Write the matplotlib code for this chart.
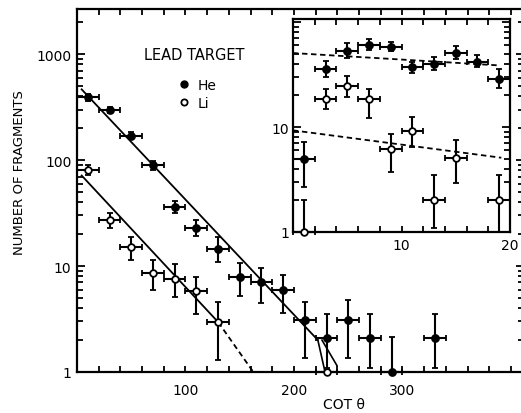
import matplotlib
matplotlib.use('Agg')
import matplotlib.pyplot as plt
from matplotlib.lines import Line2D
from matplotlib.ticker import FixedLocator, FixedFormatter, LogLocator, NullFormatter, MultipleLocator

# main panel, lead target, cot theta bins of width 20
he_x = [10, 30, 50, 70, 90, 110, 130, 150, 170, 190, 210, 230, 250, 270, 290, 330]
he_y = [390, 300, 170, 89, 36, 23, 14.5, 7.8, 7.0, 6.0, 3.1, 2.1, 3.1, 2.1, 1.0, 2.1]
he_lo = [360, 280, 158, 80, 31.7, 19.3, 11, 5.2, 4.5, 3.6, 1.35, 1.1, 1.35, 1.1, 1.0, 1.1]
he_hi = [420, 320, 183, 99, 40.8, 27.4, 19, 10.6, 9.5, 8.3, 4.6, 3.5, 4.8, 3.5, 2.16, 3.5]

li_x = [10, 30, 50, 70, 90, 110, 130, 230]
li_y = [81, 27, 15, 8.6, 7.6, 5.8, 2.95, 1.0]
li_lo = [73, 22.9, 11.5, 5.9, 5.1, 3.5, 1.3, 1.0]
li_hi = [90, 32, 19, 11.5, 10.4, 7.9, 4.6, 1.0]

# fitted lines
he_fit_x = [4.3, 222]
he_fit_y = [465, 2.0]
li_fit_x = [4.3, 130.2]
li_fit_y = [71.5, 2.95]
li_ext_x = [130.2, 162.5]
li_ext_y = [2.95, 1.0]
band_l_x = [222, 228.6]
band_l_y = [2.0, 1.0]
band_r_x = [225.8, 239.6]
band_r_y = [2.0, 1.15]

# inset, cot theta 0-20
he_in_x = [1, 3, 5, 7, 9, 11, 13, 15, 17, 19]
he_in_y = [5.0, 35.8, 53, 60, 58, 37, 39.8, 50.7, 42, 29]
he_in_lo = [2.7, 29.9, 45.4, 53.7, 52.5, 32.9, 34.7, 44.7, 37.3, 23.5]
he_in_hi = [7.2, 42.2, 63, 69, 65, 41.6, 46.4, 58.6, 48.2, 35.4]

li_in_x = [1, 3, 5, 7, 9, 11, 13, 15, 19]
li_in_y = [1.0, 18.5, 24.7, 18.5, 6.2, 9.2, 2.0, 5.1, 2.0]
li_in_lo = [1.0, 14.9, 19.3, 12.2, 3.7, 6.45, 1.08, 2.9, 1.0]
li_in_hi = [2.0, 22.8, 30.6, 22.8, 8.6, 12.5, 3.46, 7.5, 3.46]

he_in_fit_x = [0, 19.1]
he_in_fit_y = [50.7, 38.6]
li_in_fit_x = [0, 19.2]
li_in_fit_y = [9.3, 5.1]

FS = 10


def yerr(y, lo, hi):
    return [[a - b for a, b in zip(y, lo)], [b - a for a, b in zip(y, hi)]]


def points(ax, x, y, lo, hi, xe, filled):
    ax.errorbar(x, y, yerr=yerr(y, lo, hi), xerr=xe, fmt='o', color='black',
                ms=5 if filled else 4.8, mfc='black' if filled else 'white',
                mec='black', mew=1.3, elinewidth=1.5, capsize=2.5, capthick=1.3,
                zorder=3, clip_on=False)


def style(ax):
    for s in ax.spines.values():
        s.set_linewidth(1.6)
    ax.tick_params(which='both', direction='in', top=True, right=True,
                   labelsize=FS, width=1.3)
    ax.tick_params(which='major', length=6)
    ax.tick_params(which='minor', length=4)


fig = plt.figure(figsize=(5.21, 4.14), dpi=100)
# right spine sits just past the picture edge, as in the scan
ax = fig.add_axes([77 / 521, 1 - 373 / 414, 447 / 521, 363 / 414])

points(ax, he_x, he_y, he_lo, he_hi, 10, True)
points(ax, li_x, li_y, li_lo, li_hi, 10, False)
ax.plot(he_fit_x, he_fit_y, color='black', lw=1.3)
ax.plot(li_fit_x, li_fit_y, color='black', lw=1.3)
ax.plot(li_ext_x, li_ext_y, color='black', lw=1.3, ls=(0, (3, 2)))
ax.plot(band_l_x, band_l_y, color='black', lw=1.2)
ax.plot(band_r_x, band_r_y, color='black', lw=1.2)

ax.set_yscale('log')
ax.set_ylim(1, 2667)
ax.set_xlim(0, 412)
ax.xaxis.set_major_locator(FixedLocator([100, 200, 300]))
ax.xaxis.set_minor_locator(MultipleLocator(20))
ax.yaxis.set_major_locator(FixedLocator([1, 10, 100, 1000]))
ax.yaxis.set_major_formatter(FixedFormatter(['1', '10', '100', '1000']))
ax.yaxis.set_minor_locator(LogLocator(base=10, subs=range(2, 10)))
ax.yaxis.set_minor_formatter(NullFormatter())
style(ax)
ax.tick_params(axis='x', which='both', length=4, pad=8)
ax.tick_params(axis='y', pad=4)

ax.text(0.263, 0.876, 'LEAD TARGET', transform=ax.transAxes, ha='center',
        va='center', fontsize=10.5)
handles = [Line2D([], [], ls='none', marker='o', ms=5, color='black'),
           Line2D([], [], ls='none', marker='o', ms=4.5, mfc='white', mec='black', mew=1.3)]
ax.legend(handles, ['He', 'Li'], loc='upper left', bbox_to_anchor=(0.226, 0.81),
          frameon=False, fontsize=FS, handlelength=0.8, handletextpad=0.6,
          labelspacing=0.3, borderpad=0, borderaxespad=0)

fig.text(20 / 521, 1 - 173 / 414, 'NUMBER OF FRAGMENTS', rotation=90,
         ha='center', va='center', fontsize=9.5)
fig.text(344 / 521, 1 - 405 / 414, 'COT θ', ha='center', va='center', fontsize=10)

# inset
ins = fig.add_axes([293 / 521, 1 - 233 / 414, 217 / 521, 213 / 414])
points(ins, he_in_x, he_in_y, he_in_lo, he_in_hi, 1, True)
points(ins, li_in_x, li_in_y, li_in_lo, li_in_hi, 1, False)
ins.plot(he_in_fit_x, he_in_fit_y, color='black', lw=1.3, ls=(0, (3, 2)))
ins.plot(li_in_fit_x, li_in_fit_y, color='black', lw=1.3, ls=(0, (3, 2)))
ins.set_yscale('log')
ins.set_ylim(1, 107)
ins.set_xlim(0, 20)
ins.xaxis.set_major_locator(FixedLocator([10, 20]))
ins.xaxis.set_minor_locator(MultipleLocator(2))
ins.yaxis.set_major_locator(FixedLocator([1, 10, 100]))
ins.yaxis.set_major_formatter(FixedFormatter(['1', '10', '']))
ins.yaxis.set_minor_locator(LogLocator(base=10, subs=range(2, 10)))
ins.yaxis.set_minor_formatter(NullFormatter())
style(ins)
ins.tick_params(axis='x', which='both', length=4, pad=4)
ins.tick_params(axis='y', pad=3)

fig.savefig('out.png', dpi=100)
